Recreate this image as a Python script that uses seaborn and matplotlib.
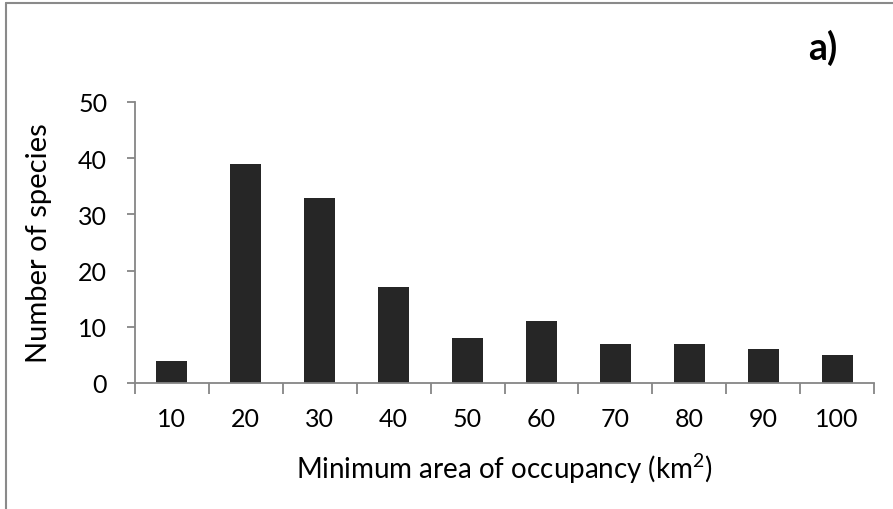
import matplotlib
matplotlib.use("Agg")
import matplotlib.pyplot as plt
from matplotlib.lines import Line2D
import seaborn as sns
import pandas as pd
import numpy as np

# Minimum area of occupancy classes (km²) and number of species in each
area_classes = ["10", "20", "30", "40", "50", "60", "70", "80", "90", "100"]
species_counts = [4, 39, 33, 17, 8, 11, 7, 7, 6, 5]
y_ticks = [0, 10, 20, 30, 40, 50]

sns.set_theme(style="white")
plt.rcParams["font.family"] = ["Lato", "DejaVu Sans"]
plt.rcParams["mathtext.fontset"] = "custom"
plt.rcParams["mathtext.rm"] = "Lato"

df = pd.DataFrame({"area": area_classes, "count": species_counts})

fig = plt.figure(figsize=(8.93, 5.10), dpi=100)
ax = fig.add_axes([135 / 893, 1 - 384 / 510, (874 - 135) / 893, (384 - 103) / 510])

sns.barplot(data=df, x="area", y="count", order=area_classes,
            color="#262626", saturation=1, width=0.42, ax=ax, linewidth=0)

spine_col = "#868686"
for side in ["top", "right"]:
    ax.spines[side].set_visible(False)
for side in ["left", "bottom"]:
    ax.spines[side].set_color(spine_col)
    ax.spines[side].set_linewidth(1.3)

n = len(area_classes)
ax.set_xlim(-0.5, n - 0.5)
ax.set_ylim(0, 50)
ax.set_yticks(y_ticks)
ax.set_yticklabels([str(t) for t in y_ticks])

# Tick marks at category boundaries, labels centred under each bar
ax.set_xticks(np.arange(-0.5, n, 1.0))
ax.set_xticklabels([])
ax.set_xticks(np.arange(n), minor=True)
ax.set_xticklabels(area_classes, minor=True)
ax.tick_params(axis="x", which="major", direction="out", length=8, width=1.3,
               color=spine_col, bottom=True)
ax.tick_params(axis="x", which="minor", length=0, pad=17, labelsize=18,
               labelcolor="black")
ax.tick_params(axis="y", direction="out", length=6, width=1.3, color=spine_col,
               left=True, pad=14, labelsize=18, labelcolor="black")

ax.set_xlabel(r"Minimum area of occupancy (km$^{\mathregular{2}}$)", fontsize=20,
              labelpad=15, color="black")
ax.set_ylabel("Number of species", fontsize=21, labelpad=19, color="black")

fig.text(837 / 893, 1 - 48 / 510, "a)", fontsize=27, fontweight="bold",
         ha="right", va="center", color="black")

# Outer frame lines
fig.add_artist(Line2D([6 / 893, 6 / 893], [0, 1 - 4 / 510], transform=fig.transFigure,
                      color="#8a8a8a", linewidth=1.5))
fig.add_artist(Line2D([6 / 893, 1], [1 - 4 / 510, 1 - 4 / 510], transform=fig.transFigure,
                      color="#8a8a8a", linewidth=1.5))

fig.savefig("out.png", dpi=100, facecolor="white")
